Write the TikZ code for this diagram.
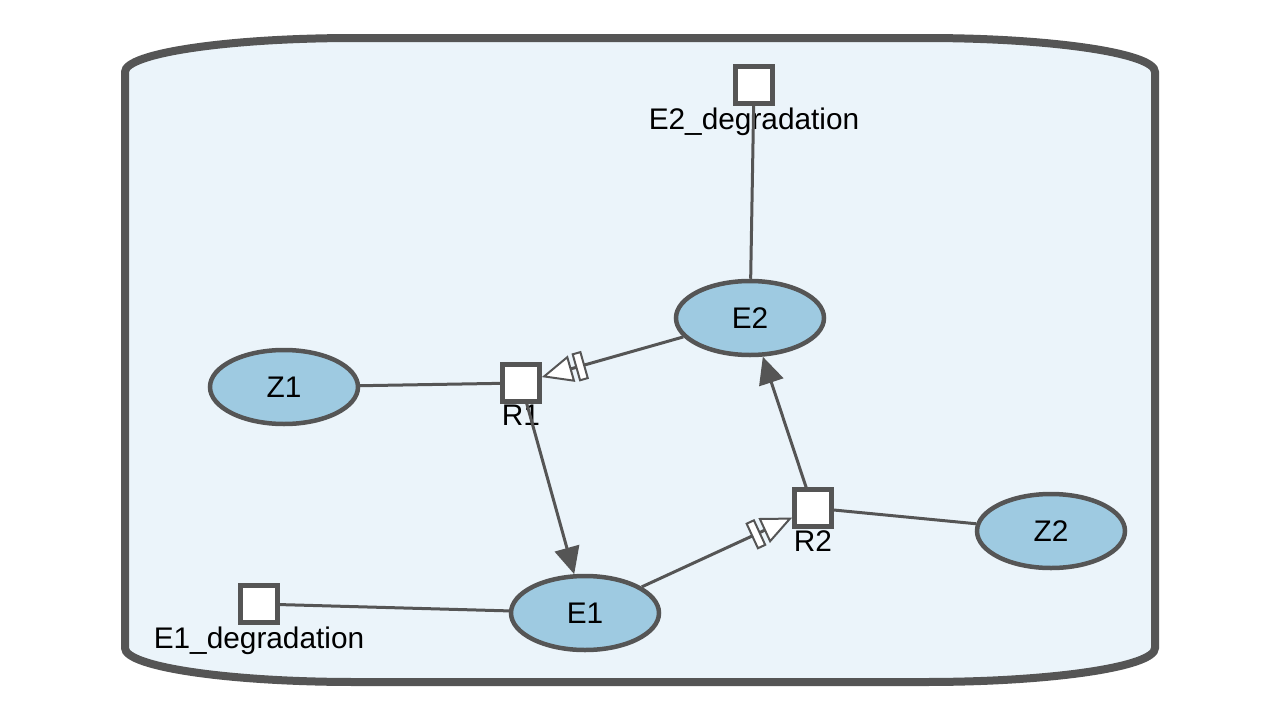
\documentclass[tikz,border=0pt]{standalone}
\usepackage{fontspec}
\setmainfont{Liberation Sans}
\definecolor{cellgray}{RGB}{85, 85, 85}
\definecolor{cellfill}{RGB}{235, 244, 250}
\definecolor{speciesblue}{RGB}{158, 202, 225}
\usetikzlibrary{shapes.geometric, arrows.meta}

\begin{document}
\begin{tikzpicture}[
    x=1pt, y=-1pt,
    every node/.style={font=\fontsize{29.8}{31}\selectfont},
    species/.style={draw=cellgray, line width=4.5pt, fill=speciesblue,
          ellipse, minimum width=148pt, minimum height=74pt, inner sep=0pt},
    reaction/.style={draw=cellgray, line width=4.5pt, fill=white,
          minimum size=37pt, inner sep=0pt},
    rlabel/.style={label={[inner sep=0pt, label distance=1.5pt]below:#1}},
    link/.style={draw=cellgray, line width=3pt},
    prod/.style={link, -{Triangle[length=27pt, width=25pt]}},
    modul/.style={link, -{Rectangle[open, fill=white, line width=2pt,
          length=10pt, width=29pt, sep=4pt]
          Triangle[open, fill=white, line width=2pt, length=31pt, width=27pt]}}
  ]
    \path[use as bounding box, fill=white] (0,0) rectangle (1280,720);
    \draw[line width=8pt, draw=cellgray, fill=cellfill]
      (125,648) -- (125,72)
      arc[start angle=180, end angle=90, x radius=230pt, y radius=34pt]
      -- (925,38)
      arc[start angle=90, end angle=0, x radius=230pt, y radius=34pt]
      -- (1155,648)
      arc[start angle=0, end angle=-90, x radius=230pt, y radius=34pt]
      -- (355,682)
      arc[start angle=-90, end angle=-180, x radius=230pt, y radius=34pt]
      -- cycle;

    \node[species] (z1) at (284, 387) {Z1};
    \node[species] (e2) at (750, 318) {E2};
    \node[species] (z2) at (1051, 531) {Z2};
    \node[species] (e1) at (585, 613) {E1};

    \node[reaction, rlabel=R1] (r1) at (521, 383) {};
    \node[reaction, rlabel=R2] (r2) at (813, 508) {};
    \node[reaction, rlabel=E2\_degradation] (e2deg) at (754, 85) {};
    \node[reaction, rlabel=E1\_degradation] (e1deg) at (259, 604) {};

    \draw[link] (z1) -- (r1);
    \draw[modul] (e2) -- (r1);
    \draw[prod] (r1) -- (e1);
    \draw[modul] (e1) -- (r2);
    \draw[prod] (r2) -- (e2);
    \draw[link] (r2) -- (z2);
    \draw[link] (e2) -- (e2deg);
    \draw[link] (e1deg) -- (e1);
\end{tikzpicture}
\end{document}
